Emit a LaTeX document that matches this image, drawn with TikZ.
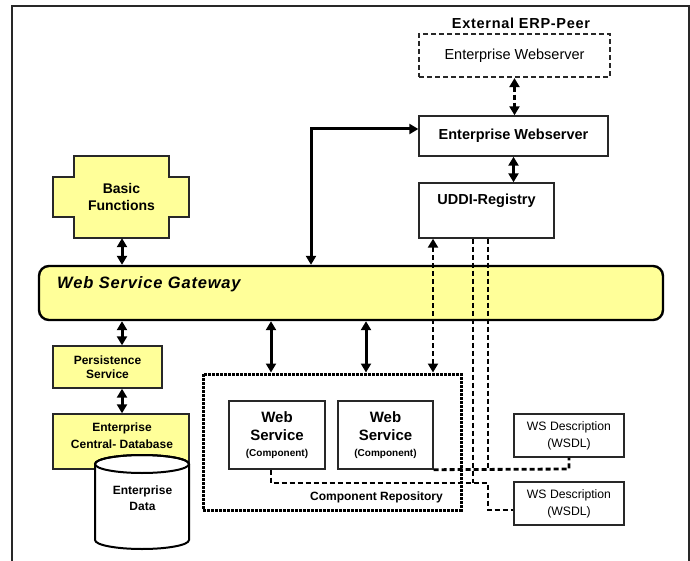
\documentclass[tikz,border=0pt]{standalone}
\usepackage{fontspec}
\setmainfont{Liberation Sans}
\newfontfamily\spaced[LetterSpace=5]{Liberation Sans}
\usetikzlibrary{arrows.meta}
\definecolor{yfill}{RGB}{255,255,153}
\definecolor{edge}{RGB}{40,40,40}
\newcommand{\fs}[2]{\fontsize{#1}{#2}\selectfont}
\tikzset{
  x=1pt, y=-1pt,
  box/.style={draw=edge, line width=1.4pt, fill=white, inner sep=0pt, align=center},
  ybox/.style={box, fill=yfill},
  txt/.style={inner sep=0pt, align=center},
  arr/.style={line width=3pt, {Triangle[length=9pt,width=10pt]}-{Triangle[length=9pt,width=10pt]}},
  dline/.style={line width=2.8pt, dash pattern=on 5pt off 3pt},
  darr/.style={dline, {Triangle[length=9pt,width=10pt]}-{Triangle[length=9pt,width=10pt]}},
}
\begin{document}
\begin{tikzpicture}
\useasboundingbox (0,0) rectangle (690,561);
\begin{scope}
\clip (0,0) rectangle (690,561);
\draw[draw=edge, line width=1.4pt] (12,6) rectangle (689,580);
\end{scope}

% Basic functions (cross shape)
\filldraw[fill=yfill, draw=edge, line width=1.4pt]
  (74,156) -- (169,156) -- (169,177) -- (189,177) -- (189,217) -- (169,217)
  -- (169,238) -- (74,238) -- (74,217) -- (53,217) -- (53,177) -- (74,177) -- cycle;
\node[txt, minimum width=136pt, minimum height=82pt, font=\fs{14}{17}\bfseries] (bf) at (121.5,197)
  {Basic\\Functions};

% Gateway
\node[draw=black, line width=2.4pt, fill=yfill, rounded corners=10pt, inner sep=0pt,
  minimum width=624pt, minimum height=54pt] (gw) at (351,293) {};
\node[txt, anchor=base west, font=\spaced\fs{16.5}{19}\bfseries\itshape] (gwl) at (57,288) {Web Service Gateway};

% External peer
\node[txt, font=\spaced\fs{14.5}{16}\bfseries] (extl) at (521,23) {External ERP-Peer};
\node[box, dash pattern=on 5pt off 3pt, line width=2.2pt, minimum width=191pt, minimum height=43pt,
  font=\fs{14.5}{16}] (extws) at (514.5,55.5) {Enterprise Webserver};
\node[box, minimum width=189pt, minimum height=40pt, font=\fs{14.5}{16}\bfseries] (ews) at (513.5,136)
  {Enterprise Webserver};
\node[box, minimum width=135pt, minimum height=55pt] (uddi) at (486.5,210.5) {};
\node[txt, font=\fs{14.5}{16}\bfseries] (uddil) at (486.5,201) {UDDI-Registry};

% Left column
\node[ybox, minimum width=109pt, minimum height=42pt, font=\fs{12}{14}\bfseries] (ps) at (107.5,367)
  {Persistence\\Service};
\node[ybox, minimum width=136pt, minimum height=55pt] (db) at (121,441.5) {};
\node[txt, font=\fs{12}{17}\bfseries] (dbl) at (122,436) {Enterprise\\Central- Database};
\filldraw[fill=white, draw=black, line width=2pt]
  (95,464) -- (95,540) arc[start angle=180, end angle=0, x radius=47, y radius=9]
  -- (189,464) arc[start angle=0, end angle=-180, x radius=47, y radius=9] -- cycle;
\draw[line width=2pt] (142,464) ellipse[x radius=47, y radius=9];
\node[txt, font=\fs{12}{16}\bfseries] (data) at (142.5,498) {Enterprise\\Data};

% Component repository
\node[draw=black, line width=3pt, dash pattern=on 3pt off 1pt, inner sep=0pt,
  minimum width=258pt, minimum height=136pt] (repo) at (332,442) {};
\node[txt, font=\fs{12}{14}\bfseries] (repol) at (376.5,497) {Component Repository};
\node[box, minimum width=96pt, minimum height=68pt, font=\fs{15}{18}\bfseries] (ws1) at (277,435)
  {Web\\Service\\[-2pt]{\fs{10}{12}(Component)}};
\node[box, minimum width=95pt, minimum height=68pt, font=\fs{15}{18}\bfseries] (ws2) at (385.5,435)
  {Web\\Service\\[-2pt]{\fs{10}{12}(Component)}};

% WSDL boxes
\node[box, minimum width=110pt, minimum height=43pt, font=\fs{12.2}{17}] (wsdl1) at (569,435.5)
  {WS Description\\(WSDL)};
\node[box, minimum width=110pt, minimum height=43pt, font=\fs{12.2}{17}] (wsdl2) at (569,503.5)
  {WS Description\\(WSDL)};

% coordinates
\coordinate (xl) at (122,0);
\coordinate (c1) at (311,129);
\coordinate (xa) at (271,0);
\coordinate (xb) at (366,0);
\coordinate (xu) at (433,0);
\coordinate (xm) at (473,0);
\coordinate (xn) at (488,0);
\coordinate (j1) at (488,483);
\coordinate (j2) at (488,510);
\coordinate (k1) at (569,469);

% solid connectors
\draw[arr] (bf.south -| xl) -- (gw.north -| xl);
\draw[arr] (gw.south -| xl) -- (ps.north -| xl);
\draw[arr] (ps.south -| xl) -- (db.north -| xl);
\draw[arr] (gw.north -| c1) -- (c1) -- (c1 -| ews.west);
\draw[arr] (ews.south) -- (uddi.north -| ews.south);
\draw[arr] (gw.south -| xa) -- (repo.north -| xa);
\draw[arr] (gw.south -| xb) -- (repo.north -| xb);

% dashed connectors
\draw[darr] (extws.south) -- (ews.north -| extws.south);
\draw[darr] (uddi.south -| xu) -- (repo.north -| xu);
\draw[dline] (uddi.south -| xm) -- (j1 -| xm);
\draw[dline] (uddi.south -| xn) -- (k1 -| xn);
\draw[dline] (ws1.south -| xa) -- (j1 -| xa) -- (j1) -- (j2) -- (j2 -| wsdl2.west);
\draw[dline] (ws2.south east) -- (k1) -- (wsdl1.south);
\end{tikzpicture}
\end{document}
